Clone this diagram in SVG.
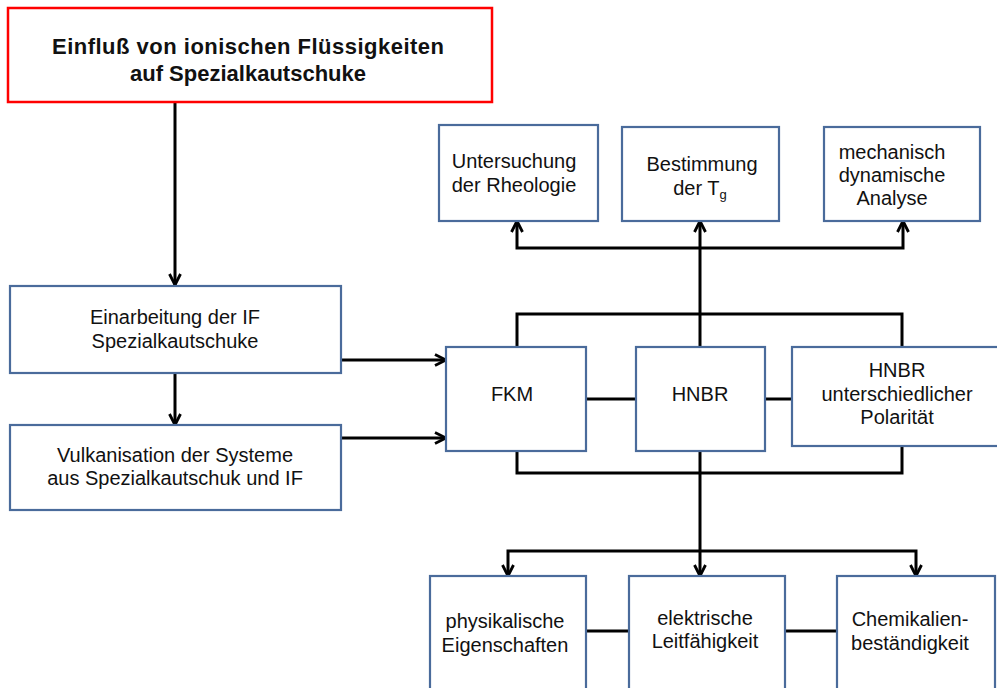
<svg xmlns="http://www.w3.org/2000/svg" width="997" height="688" viewBox="0 0 997 688">
<style>
.box{fill:#fff;stroke:#4a6b9b;stroke-width:2.2}
.title{fill:#fff;stroke:#ff0000;stroke-width:2.5}
.t{font-family:"Liberation Sans",Arial,sans-serif;font-size:20px;fill:#111;text-anchor:middle}
.tb{font-family:"Liberation Sans",Arial,sans-serif;font-size:22px;font-weight:bold;fill:#111;text-anchor:middle}
.c{fill:none;stroke:#000;stroke-width:3}
.a{marker-end:url(#arr)}
.aa{marker-start:url(#arr);marker-end:url(#arr)}
</style>
<defs>
<marker id="arr" viewBox="0 0 14 14" refX="12.5" refY="7" markerWidth="14" markerHeight="14" markerUnits="userSpaceOnUse" orient="auto-start-reverse">
<path d="M1.5,1.5 L12.5,7 L1.5,12.5" fill="none" stroke="#000" stroke-width="2.8"/>
</marker>
</defs>
<g id="connectors">
<path class="c a" d="M175,102 V285"/>
<path class="c a" d="M175,373 V425"/>
<path class="c a" d="M341,360 H446"/>
<path class="c a" d="M341,438 H446"/>
<path class="c a" d="M700,347 V221"/>
<path class="c" d="M517,347 V314 H902 V347"/>
<path class="c aa" d="M517,221 V248 H903 V221"/>
<path class="c" d="M517,451 V473 H902 V446"/>
<path class="c a" d="M700,451 V576"/>
<path class="c aa" d="M508,576 V551 H916 V576"/>
<path class="c" d="M586,399 H636"/>
<path class="c" d="M765,399 H792"/>
<path class="c" d="M586,631 H629"/>
<path class="c" d="M785,631 H837"/>
</g>
<g id="title">
<rect class="title" x="8" y="8" width="484" height="94"/>
<text class="tb" x="248" y="54" textLength="392" lengthAdjust="spacing">Einfluß von ionischen Flüssigkeiten</text>
<text class="tb" x="248" y="81">auf Spezialkautschuke</text>
</g>
<g id="einarbeitung">
<rect class="box" x="10" y="286" width="331" height="87"/>
<text class="t" x="175" y="324">Einarbeitung der IF</text>
<text class="t" x="175" y="348">Spezialkautschuke</text>
</g>
<g id="vulkanisation">
<rect class="box" x="10" y="425" width="331" height="85"/>
<text class="t" x="175" y="462">Vulkanisation der Systeme</text>
<text class="t" x="175" y="485">aus Spezialkautschuk und IF</text>
</g>
<g id="rheologie">
<rect class="box" x="439" y="125" width="159" height="96"/>
<text class="t" x="514" y="168">Untersuchung</text>
<text class="t" x="514" y="192">der Rheologie</text>
</g>
<g id="tg">
<rect class="box" x="622" y="127" width="157" height="94"/>
<text class="t" x="702" y="171">Bestimmung</text>
<text class="t" x="700" y="195">der T<tspan font-size="13" dy="4">g</tspan></text>
</g>
<g id="dma">
<rect class="box" x="824" y="127" width="156" height="94"/>
<text class="t" x="892" y="159">mechanisch</text>
<text class="t" x="892" y="182">dynamische</text>
<text class="t" x="892" y="205">Analyse</text>
</g>
<g id="fkm">
<rect class="box" x="446" y="347" width="140" height="104"/>
<text class="t" x="512" y="401">FKM</text>
</g>
<g id="hnbr">
<rect class="box" x="636" y="347" width="129" height="104"/>
<text class="t" x="700" y="401">HNBR</text>
</g>
<g id="hnbr-polar">
<rect class="box" x="792" y="347" width="215" height="99"/>
<text class="t" x="897" y="377">HNBR</text>
<text class="t" x="897" y="401">unterschiedlicher</text>
<text class="t" x="897" y="424">Polarität</text>
</g>
<g id="physikalisch">
<rect class="box" x="430" y="576" width="156" height="120"/>
<text class="t" x="505" y="628">physikalische</text>
<text class="t" x="505" y="652">Eigenschaften</text>
</g>
<g id="elektrisch">
<rect class="box" x="629" y="576" width="156" height="120"/>
<text class="t" x="705" y="625">elektrische</text>
<text class="t" x="705" y="648">Leitfähigkeit</text>
</g>
<g id="chemikalien">
<rect class="box" x="837" y="576" width="158" height="120"/>
<text class="t" x="910" y="626">Chemikalien-</text>
<text class="t" x="910" y="650">beständigkeit</text>
</g>
</svg>
